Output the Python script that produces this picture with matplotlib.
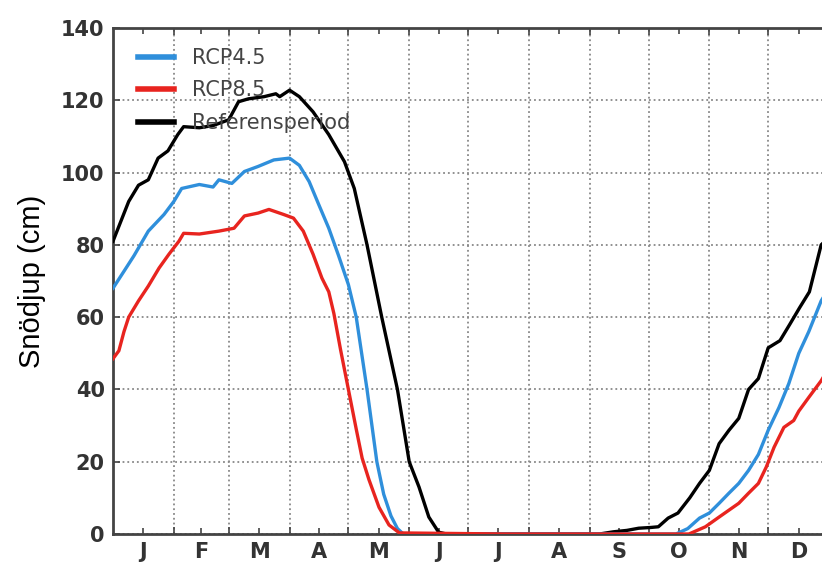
import matplotlib
matplotlib.use("Agg")
import matplotlib.pyplot as plt
from matplotlib.ticker import FixedLocator, NullFormatter, FixedFormatter

# ---------------- data (day of year, snow depth in cm) ----------------
ref_days = [0, 8, 13, 18, 23, 28, 33, 36, 44, 51, 59, 64, 69, 77, 83, 85, 90, 95, 102,
            110, 118, 123, 129.5, 137, 145, 151, 156, 161, 166, 170, 200, 248, 255, 262,
            268, 274, 278, 283, 288, 294, 299, 304, 309, 314, 319, 324, 329, 334, 340,
            345, 350, 355, 361, 365]
ref_depth = [81, 92, 96.5, 98, 104, 106, 110.5, 112.7, 112.4, 113, 114.6, 119.6, 120.4,
             121, 121.8, 121, 122.8, 121, 116.8, 110.5, 103, 95.6, 80, 60, 40, 20, 13,
             4.7, 0.5, 0, 0, 0, 0.6, 1.0, 1.6, 1.8, 2.0, 4.4, 5.8, 10, 14, 17.6, 25, 28.7,
             32, 40, 43, 51.5, 53.5, 58, 62.6, 67, 80, 82]

rcp45_days = [0, 5.6, 10.7, 18, 26, 31, 35, 44, 51, 54, 60.6, 67, 74, 82, 90, 95, 100,
              105, 110, 115, 120, 124, 129.5, 134.5, 138, 141.7, 145, 148, 200, 287, 293,
              299, 304, 309, 314, 319, 324, 329, 334, 339.5, 344.5, 349.6, 354.7, 361, 365]
rcp45_depth = [68, 72.7, 77, 83.8, 88.4, 92, 95.6, 96.7, 96, 98, 97, 100.3, 101.7, 103.5,
               104, 102, 97.5, 91, 84.6, 77, 69, 60, 40, 20, 11, 5, 1.5, 0, 0, 0, 1.5,
               4.4, 5.8, 8.5, 11.3, 14, 17.6, 22, 28.7, 35, 41.6, 50, 56, 64.5, 68]

rcp85_days = [0, 3, 5.6, 8, 13, 18, 23.5, 28.5, 33.6, 36, 44, 54, 61.7, 67, 74, 79.5, 87,
              92, 97, 102, 106.5, 110, 112.6, 116, 120, 124, 127, 130.5, 135.6, 140.7,
              146, 200, 293.6, 302, 309, 314, 319, 324, 329, 333, 337, 342, 347, 349.6,
              354.7, 361, 365]
rcp85_depth = [48.5, 50.7, 56, 60, 64.5, 68.6, 73.6, 77.4, 81, 83.2, 83, 83.8, 84.6, 88,
               88.8, 89.8, 88.4, 87.4, 83.8, 77.4, 70.8, 67, 61, 51, 40, 29, 21, 15, 7.4,
               2.5, 0.3, 0, 0, 2, 4.7, 6.6, 8.5, 11.3, 14, 18.5, 24, 29.5, 31.4, 34, 37.8,
               42.4, 46]

month_labels = ["J", "F", "M", "A", "M", "J", "J", "A", "S", "O", "N", "D"]
month_lengths = [31, 28, 31, 30, 31, 30, 31, 31, 30, 31, 30, 31]
series_labels = ["RCP4.5", "RCP8.5", "Referensperiod"]
y_ticks = [0, 20, 40, 60, 80, 100, 120, 140]

# ---------------- figure ----------------
fig = plt.figure(figsize=(8.22, 5.69), dpi=100)
W, H = 822, 569
ax_left, ax_right, ax_top, ax_bottom = 113, 829, 28, 534
ax = fig.add_axes([ax_left / W, (H - ax_bottom) / H,
                   (ax_right - ax_left) / W, (ax_bottom - ax_top) / H])

blue = "#2F8FDB"
red = "#E8241F"

l_ref, = ax.plot(ref_days, ref_depth, color="black", lw=2.4, label=series_labels[2], zorder=3)
l_45, = ax.plot(rcp45_days, rcp45_depth, color=blue, lw=2.4, label=series_labels[0], zorder=3)
l_85, = ax.plot(rcp85_days, rcp85_depth, color=red, lw=2.4, label=series_labels[1], zorder=3)

ax.set_xlim(0, 365)
ax.set_ylim(0, 140)

# month boundaries (major, grid) and month centres (minor, labels)
bounds = []
s = 0
centres = []
for L in month_lengths:
    centres.append(s + L / 2)
    s += L
    bounds.append(s)
ax.xaxis.set_major_locator(FixedLocator(bounds[:-1]))
ax.xaxis.set_major_formatter(NullFormatter())
ax.xaxis.set_minor_locator(FixedLocator(centres))
ax.xaxis.set_minor_formatter(FixedFormatter(month_labels))

ax.set_yticks(y_ticks)

tick_col = "#333333"
ax.tick_params(axis="both", which="both", direction="in", top=True, right=True,
               color="#444444", width=1.2)
ax.tick_params(axis="both", which="major", length=5)
ax.tick_params(axis="x", which="minor", length=4, pad=6, labelsize=15, labelcolor=tick_col)
ax.tick_params(axis="y", which="major", pad=6, labelsize=15, labelcolor=tick_col)
for lab in ax.get_yticklabels():
    lab.set_fontweight("bold")
for lab in ax.xaxis.get_minorticklabels():
    lab.set_fontweight("bold")

for sp in ax.spines.values():
    sp.set_color("#444444")
    sp.set_linewidth(2)

ax.grid(True, which="major", linestyle=":", color="#888888", linewidth=1.3)
ax.set_axisbelow(True)

ax.set_ylabel("Snödjup (cm)", fontsize=21, family="Liberation Sans", color="black")
ax.yaxis.set_label_coords(-0.094, 0.5)

leg = ax.legend([l_45, l_85, l_ref], series_labels, loc="upper left",
                bbox_to_anchor=((138 - ax_left) / (ax_right - ax_left),
                                1 - (48 - ax_top) / (ax_bottom - ax_top)),
                frameon=False, fontsize=15, handlelength=1.75, handletextpad=0.85,
                labelspacing=0.6, borderpad=0, borderaxespad=0)
for t in leg.get_texts():
    t.set_color("#444444")
for h in leg.get_lines():
    h.set_linewidth(4)

fig.savefig("out.png", dpi=100)
